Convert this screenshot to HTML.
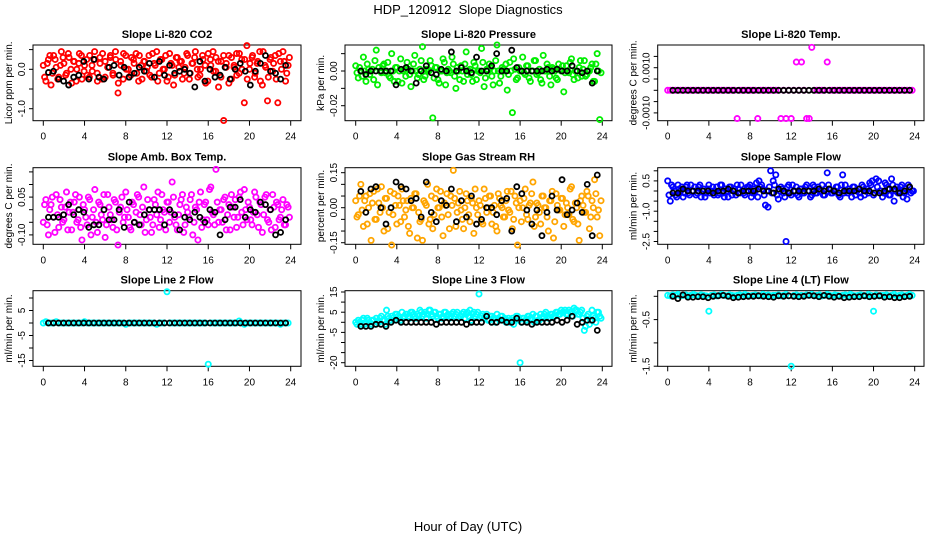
<!DOCTYPE html>
<html><head><meta charset="utf-8"><title>HDP_120912 Slope Diagnostics</title>
<style>
html,body{margin:0;padding:0;background:#fff;}
svg{display:block;font-family:"Liberation Sans",Arial,sans-serif;}
</style></head>
<body>
<svg id="chart" width="936" height="540" viewBox="0 0 936 540" xmlns="http://www.w3.org/2000/svg">
<rect x="0" y="0" width="936" height="540" fill="#fff"/>
<text x="468" y="14" text-anchor="middle" font-size="13">HDP_120912&#160; Slope Diagnostics</text>
<text x="468" y="531" text-anchor="middle" font-size="13">Hour of Day (UTC)</text>
</svg>
<script>
// ---- data (units scaled per panel) ----
const co2Color = [10,-30,25,-40,35,5,-20,45,15,-10,30,-35,20,0,40,-25,10,-15,35,-5,25,-30,15,40,-20,5,30,-10,45,-60,20,-25,35,0,-15,25,40,-30,10,20,-5,35,-20,15,45,-10,25,0,-30,40,10,-15,30,20,-25,5,35,-10,15,45,-20,0,25,-35,40,10,-5,30,-45,20,-130,15,35,-25,5,40,-10,25,-85,60,0,30,-20,15,45,-40,10,-80,25,-5,35,-85,20,45,-30,10];
const co2Color2 = [-20,15,35,-10,25,-25,10,30,-15,40,0,20,-30,15,35,-5,25,-20,10,45,-10,30,-25,20,5,35,-15,25,-35,10,40,0,-20,30,15,-10,35,-25,20,5,-15,40,10,-30,25,0,35,-20,15,-40,30,5,20,-10,40,-25,15,30,0,-15,35,10,-30,25,45,-5,20,-20,35,5,-35,30,10,-15,40,0,25,-25,15,35,-10,20,-30,45,5,-20,30,15,-25,40,0,20,-10,30];
const co2Black = [-8,-5,-25,-30,-40,-20,-15,20,-25,25,-20,-25,5,10,-15,5,-20,-10,5,-5,15,-20,20,-15,10,-10,-5,0,-10,-45,20,-30,0,-20,-15,5,-25,0,15,-5,-40,-5,15,35,-5,-10,-25,10];

const presColor = [3,-4,0,8,-6,1,0,-5,12,2,-1,4,0,-3,10,-6,2,0,-7,1,5,-2,0,9,-4,1,14,-3,0,6,-27,2,-5,0,7,-8,1,-1,4,-10,0,3,-6,11,0,-2,5,-5,0,13,-9,1,4,-3,0,15,-7,2,0,-11,5,-24,1,-4,0,8,-2,3,-6,0,6,-1,-5,9,0,2,-8,1,-4,4,0,-12,3,-1,7,-5,0,2,-3,6,-2,0,4,-6,10,-28];
const presColor2 = [-1,2,-3,0,4,-2,1,6,-8,0,3,-1,5,-4,0,2,-6,7,0,-3,1,-9,4,0,-2,6,-5,1,0,3,-4,2,-7,0,5,-1,0,8,-3,2,-5,0,4,-2,1,-6,3,0,-1,5,-4,0,2,-8,6,0,-3,1,4,-2,0,7,-5,2,0,-1,3,-4,0,6,-2,1,-7,0,4,-3,2,0,-5,1,3,-1,0,5,-2,0,-4,6,1,-3,0,2,-6,4,0,-1];
const presBlack = [0,-2,0,0,0,0,0,-8,1,2,0,-7,0,3,-1,-2,1,0,11,0,2,0,-1,8,0,0,3,10,0,0,12,2,0,0,0,0,0,1,0,1,0,0,3,0,-1,0,-7,0];

const tempColor = [0,0,0,0,0,0,0,0,0,0,0,0,0,0,0,0,0,0,0,0,0,0,0,0,0,0,0,-12.5,0,0,0,0,0,0,0,-12.5,0,0,0,0,0,0,0,0,-12.5,0,-12.5,0,-12.5,0,12.5,0,12.5,0,-12.5,-12.5,19,0,0,0,0,0,12.5,0,0,0,0,0,0,0,0,0,0,0,0,0,0,0,0,0,0,0,0,0,0,0,0,0,0,0,0,0,0,0,0,0];
const tempBlack = [0,0,0,0,0,0,0,0,0,0,0,0,0,0,0,0,0,0,0,0,0,0,0,0,0,0,0,0,0,0,0,0,0,0,0,0,0,0,0,0,0,0,0,0,0,0,0,0];

const ambColor = [-5,4,-10,2,-3,6,-7,1,-4,7,-1,-8,3,-5,5,-12,0,-6,4,-3,8,-9,2,-4,-11,6,-2,-7,3,-14,1,-5,7,-3,-8,2,-1,5,-6,9,-4,0,-9,4,-2,-7,6,-1,3,-5,11,-3,-8,2,6,-6,-1,4,-10,1,-12,7,-4,3,-6,9,-2,16,-5,0,4,-8,2,6,-3,-7,5,-1,8,-4,1,-6,7,-2,3,-9,5,-4,0,6,-7,2,-3,4,-6,1];
const ambColor2 = [2,-6,0,5,-9,-2,4,-5,1,-8,3,-1,6,-4,-7,2,-3,5,-10,0,-5,3,-2,6,-6,1,-4,4,-8,-1,5,-3,0,-7,3,-5,6,-2,1,-9,4,-3,-6,2,7,-4,0,-8,3,-1,5,-6,-2,4,-9,1,-3,6,-5,0,3,-7,2,-4,8,-1,-6,3,0,-5,5,-2,-8,1,4,-3,7,-6,0,3,-4,-1,5,-7,2,-2,6,-5,-8,1,3,-4,0,-6,2,-3];
const ambBlack = [-3,-3,-3,-2,2,-2,0,-1,-7,-6,-6,0,-4,-4,0,-7,3,-5,-6,-2,0,0,0,-6,0,-2,-8,-3,-4,-1,-3,-5,0,-1,-10,-4,1,1,4,-3,0,-1,3,2,0,-10,-9,-4];

const rhColor = [3,-3,10,-8,5,0,-14,7,-5,2,9,-10,4,-2,-16,6,-7,1,8,-4,3,-11,0,6,-13,-6,-14,2,10,-5,-9,4,0,7,-12,1,-3,5,16,-8,2,-1,-9,6,-3,4,-11,0,3,-6,8,-2,5,-7,1,-10,4,0,-4,7,-2,-9,5,-16,3,0,8,-5,2,11,-4,1,-7,5,0,-10,3,-13,6,-1,4,-8,2,-3,9,-6,0,-14,5,-2,7,-9,3,12,-4,-12];
const rhColor2 = [-4,5,-1,3,-7,6,2,-5,8,-2,0,4,-9,7,-3,1,5,-6,3,-1,-8,4,0,6,-2,-5,3,1,-7,5,-3,8,0,-4,2,6,-9,1,4,-2,7,-5,0,3,-6,2,8,-3,1,-7,4,0,5,-2,-8,6,1,-4,3,-1,7,-5,2,0,-6,4,-3,1,6,-8,2,-2,5,0,-4,3,7,-6,1,-1,4,-3,0,8,-5,2,-7,3,1,-2,5,-4,0,6,-1,3];
const rhBlack = [7,-2,8,9,0,-7,0,11,9,8,3,4,-4,11,-2,-6,3,1,8,-6,3,-4,5,-7,-5,0,0,-3,3,4,-10,9,6,-1,-7,-1,-12,-2,5,-1,12,-3,-1,2,-2,10,-12,14];

const flowColor = [5,-5,2,-2,3,0,-3,2,-1,3,0,-2,2,-3,1,-1,3,0,-2,2,-1,3,-3,0,2,-2,1,3,-1,0,-2,2,3,-1,0,-3,2,1,-7,-8,10,5,8,-4,2,-1,-25,3,-2,0,2,-3,1,-1,3,0,-2,2,-1,0,3,-2,9,1,-1,0,2,-3,8,3,-1,0,2,-2,1,-3,2,0,-1,3,-2,6,5,0,-1,3,-2,6,-5,2,0,3,-1,-4,2,0];
const flowColor2 = [-2,3,0,-3,1,2,-1,3,-2,0,2,-1,3,0,-3,1,-1,2,0,-2,3,-1,1,-3,2,0,-2,1,3,-1,0,2,-3,1,4,5,3,-2,0,2,-1,3,-2,0,1,-3,2,-1,3,0,-2,1,-1,2,0,-3,3,-1,2,0,-2,1,3,-1,0,2,-2,3,-1,0,1,-3,2,0,-1,3,-2,1,4,5,-1,2,0,-3,4,1,-2,3,0,-1,2,-3,1,3,-1,0];
const flowBlack = [-1,-1,1,0,0,0,0,0,-1,0,0,1,0,-1,0,0,0,1,0,0,-1,1,0,-1,0,0,0,0,0,1,0,1,0,-1,0,0,0,1,0,0,-1,-1,0,1,1,-1,0,2];

const line2Color = [0,0.5,0,0,0,0.5,0,0,0,0,0,0,0,0,0,0,0.5,0,0,0,0,0,0,0,0,0,0,0,0,0,0,0,-0.5,0,0,0,0,0,0,0,0,0,0,0,-0.5,0,0,0,12.5,0,0,0,0,0,0,0,0,0,0,0,0,0,0,0,-16.5,0,0,0,0,0,0,0,0,0,0,0,0.8,0,-0.5,0,0,0,0,0,0,0,0,0,0,0,0,0,-0.5,0,0,0];
const line2Black = [0,0,0,0,0,0,0,0,0,0,0,0,0,0,0,0,0,0,0,0,0,0,0,0,0,0,0,0,0,0,0,0,0,0,0,0,0,0,0,0,0,0,0,0,0,0,0,0];

const line3Color = [0,1,-1,2,0,1,-1,1,2,0,3,1,6,2,3,1,4,2,5,3,4,2,5,3,4,6,3,5,4,6,3,5,2,4,3,5,4,3,5,4,2,3,5,4,3,1,5,4,14,3,2,4,1,3,2,4,1,3,2,1,0,2,1,3,-20,2,1,3,2,4,3,1,4,3,5,2,4,3,5,4,6,5,4,6,5,7,6,4,6,-4,3,-1,6,2,5,3];
const line3Color2 = [-1,0,1,-1,2,0,1,-1,0,2,1,-1,3,1,2,4,3,1,2,4,3,5,4,2,3,5,4,2,6,4,5,3,4,2,5,3,2,4,3,5,3,4,2,5,6,4,3,5,2,4,3,1,3,2,0,2,3,1,0,2,1,-1,3,1,0,2,1,3,2,0,3,1,2,4,3,2,4,3,5,4,5,6,4,5,3,6,4,5,2,-2,4,1,3,0,5,2];
const line3Black = [-2,-2,-2,-1,-1,-2,0,1,0,0,0,0,0,0,0,-1,0,0,0,0,0,-1,0,0,0,3,0,0,1,0,0,2,0,0,-1,0,0,0,0,1,0,1,3,-1,0,1,1,-4];

const line4Color = [2,1,3,2,4,1,2,3,1,2,4,2,1,3,2,1,-32,2,3,1,2,4,2,1,3,2,1,2,3,1,4,2,1,2,3,2,1,4,2,3,1,2,2,3,1,2,4,1,-150,2,3,1,2,1,3,2,4,1,2,3,1,2,4,2,1,3,2,1,2,3,1,4,2,1,2,3,2,1,4,2,-32,3,1,2,2,3,1,2,4,1,2,3,1,2,4,2];
const line4Black = [0,-5,3,-2,-2,-1,-1,-3,0,1,2,0,-3,-2,-1,0,0,1,0,-1,-2,1,0,1,0,-1,0,2,1,-1,2,0,-2,0,-3,-2,-1,-1,1,-1,0,1,-2,-1,-3,-3,-1,0];

const xTicks = [0,4,8,12,16,20,24];
const titles = ["Slope Li-820 CO2","Slope Li-820 Pressure","Slope Li-820 Temp.","Slope Amb. Box Temp.","Slope Gas Stream RH","Slope Sample Flow","Slope Line 2 Flow","Slope Line 3 Flow","Slope Line 4 (LT) Flow"];
const yLabels = ["Licor ppm per min.","kPa per min.","degrees C per min.","degrees C per min.","percent per min.","ml/min per min.","ml/min per min.","ml/min per min.","ml/min per min."];
const yTicks = [[-1,-0.5,0,0.5],[-0.02,-0.01,0,0.01],[-0.001,-0.0005,0,0.0005,0.001,0.0015],[-0.1,-0.05,0,0.05,0.1,0.15],[-0.15,-0.1,-0.05,0,0.05,0.1,0.15],[-2.5,-2,-1.5,-1,-0.5,0,0.5,1],[-15,-10,-5,0,5,10],[-20,-15,-10,-5,0,5,10,15],[-1.5,-1,-0.5,0]];
const yTickLabels = [[[-1,"-1.0"],[0,"0.0"]],[[-0.02,"-0.02"],[0,"0.00"]],[[-0.001,"-0.0010"],[0.001,"0.0010"]],[[-0.1,"-0.10"],[0.05,"0.05"]],[[-0.15,"-0.15"],[0,"0.00"],[0.15,"0.15"]],[[-2.5,"-2.5"],[-1,"-1.0"],[0.5,"0.5"]],[[-15,"-15"],[-5,"-5"],[5,"5"]],[[-20,"-20"],[-5,"-5"],[5,"5"],[15,"15"]],[[-1.5,"-1.5"],[-0.5,"-0.5"]]];
const scales = [0.01,0.001,0.0001,0.01,0.01,0.1,1,1,0.01];
const colors = ["#ff0000","#00ee00","#ff00ff","#ff00ff","#ffa500","#0000ff","#00ffff","#00ffff","#00ffff"];
const colorSeries = [[co2Color,co2Color2],[presColor,presColor2],[tempColor],[ambColor,ambColor2],[rhColor,rhColor2],[flowColor,flowColor2],[line2Color],[line3Color,line3Color2],[line4Color]];
const blackSeries = [co2Black,presBlack,tempBlack,ambBlack,rhBlack,flowBlack,line2Black,line3Black,line4Black];

// ---- layout (pixel geometry) ----
const colBox = [[33,301,43.3,290.7],[345,612,355.7,602.3],[657.7,924,667.7,914.7]];
const rowBox = [[45,120.7],[167.7,244.3],[290.7,366.3]];
const yCal = [[0,69.3,-1,108.7],[0,71,-0.02,105.7],[0,90.3,0.001,67.7],[0,209.7,0.05,197.1],[0,207.7,0.05,196.03],[0,191,1,170.8],[0,323,5,310.5],[0,322.3,5,312.2],[0,296.3,-0.5,319.6]];

const NS = "http://www.w3.org/2000/svg";
const svg = document.getElementById("chart");
function mk(tag, attrs, parent){
  const e = document.createElementNS(NS, tag);
  for (const k in attrs) e.setAttribute(k, attrs[k]);
  (parent||svg).appendChild(e);
  return e;
}

for (let p = 0; p < 9; p++){
  const col = p % 3, row = Math.floor(p / 3);
  const [L, R, x0, x24] = colBox[col];
  const [T, B] = rowBox[row];
  const [va, pa, vb, pb] = yCal[p];
  const xs = h => x0 + (h / 24) * (x24 - x0);
  const ys = v => pa + (v - va) * (pb - pa) / (vb - va);

  const g = mk("g", {});
  
  

  const title = mk("text", {x:(L+R)/2, y:T-7, "text-anchor":"middle", "font-size":"11", "font-weight":"bold"}, g);
  title.textContent = titles[p];
  
  

  const box = mk("rect", {x:L, y:T, width:R-L, height:B-T, fill:"none", stroke:"#000", "stroke-width":"1"}, g);
  
  

  const xa = mk("g", {}, g);
  
  
  for (const t of xTicks){
    const tk = mk("line", {x1:xs(t), x2:xs(t), y1:B, y2:B+5, stroke:"#000", "stroke-width":"1"}, xa);
    
    
    const lb = mk("text", {x:xs(t), y:B+19, "text-anchor":"middle", "font-size":"10"}, xa);
    lb.textContent = t;
    
    
  }
  const ya = mk("g", {}, g);
  
  
  for (const t of yTicks[p]){
    const tk = mk("line", {x1:L-4, x2:L, y1:ys(t), y2:ys(t), stroke:"#000", "stroke-width":"1"}, ya);
    
    
  }
  for (const [v, s] of yTickLabels[p]){
    const yy = ys(v), xx = L - 8;
    const lb = mk("text", {x:xx, y:yy, "text-anchor":"middle", "font-size":"10", transform:`rotate(-90 ${xx} ${yy})`}, ya);
    lb.textContent = s;
    
    
  }
  const yt = mk("text", {x:L-21, y:(T+B)/2, "text-anchor":"middle", "font-size":"10", transform:`rotate(-90 ${L-21} ${(T+B)/2})`}, g);
  yt.textContent = yLabels[p];
  
  

  const sc = scales[p];
  colorSeries[p].forEach((arr, k) => {
    const sg = mk("g", {fill:"none", stroke:colors[p], "stroke-width":"1.8"}, g);
    
    
    const n = arr.length;
    arr.forEach((v, i) => {
      const h = (i + k * 0.5) * 24 / n;
      const c = mk("circle", {cx:xs(h), cy:ys(v * sc), r:"2.6"}, sg);
      
      
    });
  });
  const bg = mk("g", {fill:"none", stroke:"#000", "stroke-width":"1.8"}, g);
  
  
  const bArr = blackSeries[p], bn = bArr.length;
  bArr.forEach((v, i) => {
    const h = 0.5 + i * 23.5 / bn;
    const c = mk("circle", {cx:xs(h), cy:ys(v * sc), r:"2.5"}, bg);
    
    
  });
}
</script>
</body></html>
